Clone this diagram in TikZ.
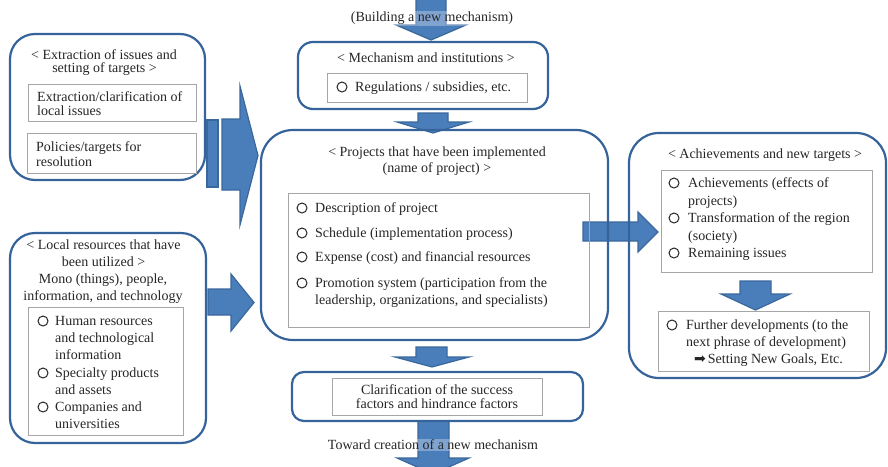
\documentclass[tikz,border=0pt]{standalone}
\usepackage{fontspec}
\setmainfont{Liberation Serif}
\newfontfamily\symf{DejaVu Sans}
\definecolor{arrfill}{HTML}{4A7EBB}
\definecolor{arrdraw}{HTML}{3A679C}
\definecolor{boxblue}{HTML}{35639A}
\definecolor{boxgray}{HTML}{A6A6A6}
\definecolor{txtc}{HTML}{262626}
\tikzset{
 rbox/.style={draw=boxblue, line width=2.2pt, rectangle, inner sep=0pt},
 ibox/.style={draw=boxgray, line width=1pt, rectangle, inner sep=0pt},
 txt/.style={inner sep=0pt, text=txtc, font=\fontsize{14}{14}\selectfont},
 bul/.style={draw=txtc, line width=1pt},
 blk/.style={fill=arrfill, draw=arrdraw, line width=1.2pt, line join=miter},
 lbl/.style={txt, fill=white, fill opacity=0.3, text opacity=1, inner sep=1pt},
}
\newcommand\RBox[6]{\node[rbox, rounded corners=#6pt, minimum width={#4-#2}, minimum height={#5-#3}] (#1) at ({(#2+#4)/2},{(#3+#5)/2}) {};}
\newcommand\IBox[5]{\node[ibox, minimum width={#4-#2}, minimum height={#5-#3}] (#1) at ({(#2+#4)/2},{(#3+#5)/2}) {};}
\newcommand\TL[4]{\node[txt, anchor=base west] (#1) at (#2,{#3+4.5}) {#4};}
\newcommand\TC[4]{\node[txt, anchor=base] (#1) at (#2,{#3+4.5}) {#4};}
\newcommand\IT[5]{\draw[bul] (#2,#4) circle[radius=5pt]; \TL{#1}{#3}{#4}{#5}}
\newcommand\RA[7]{\draw[blk] (#1,#4) -- (#2,#4) -- (#2,#6) -- (#3,{(#6+#7)/2}) -- (#2,#7) -- (#2,#5) -- (#1,#5) -- cycle;}
\newcommand\DA[7]{\draw[blk] (#4,#1) -- (#4,#2) -- (#6,#2) -- ({(#6+#7)/2},#3) -- (#7,#2) -- (#5,#2) -- (#5,#1) -- cycle;}
\begin{document}
\begin{tikzpicture}[x=1pt,y=-1pt]
\useasboundingbox (0,0) rectangle (888,466);
\clip (0,0) rectangle (888,466);
\fill[white] (0,0) rectangle (888,466);
% block arrows
\DA{-2}{25}{40}{416}{446}{396}{466}
\DA{113}{122}{133}{418}{448}{397}{469}
\DA{347}{357}{367}{416}{447}{395}{469}
\DA{421}{458}{474}{418}{449}{397}{469}
\DA{281}{294}{310}{740}{771}{721}{790}
\draw[blk] (207,120) rectangle (218,187);
\RA{222}{240}{258}{119}{190}{86}{225}
\RA{208}{231}{254}{289}{315}{274}{331}
\RA{583}{638}{658}{222}{241}{212}{252}
% rounded boxes
\RBox{A}{10}{34}{205}{180}{25}
\RBox{B}{10}{233}{206}{443}{25}
\RBox{C}{298}{42}{548}{109}{15}
\RBox{D}{261}{130}{608}{340}{32}
\RBox{E}{629}{133}{886}{378}{30}
\RBox{F}{292}{372}{583}{421}{12}
% inner boxes
\IBox{A1}{28}{84}{196}{121}
\IBox{A2}{27}{133}{196}{173}
\IBox{B1}{28}{307}{183}{435}
\IBox{C1}{327}{73}{527}{102}
\IBox{D1}{288}{193}{589}{327}
\IBox{E1}{661}{170}{872}{272}
\IBox{E2}{658}{311}{869}{371}
\IBox{F1}{332}{378}{542}{415}
% top / bottom labels
\node[lbl, anchor=base] (ttop) at (432,21.5) {(Building a new mechanism)};
\node[lbl, anchor=base] (tbot) at (433,449.5) {Toward creation of a new mechanism};
% A
\TC{a1}{104}{55}{< Extraction of issues and}
\TC{a2}{104.5}{68}{setting of targets >}
\TL{a3}{37}{97}{Extraction/clarification of}
\TL{a4}{37}{111}{local issues}
\TL{a5}{36}{147}{Policies/targets for}
\TL{a6}{36}{162}{resolution}
% B
\TC{b1}{103.5}{245}{< Local resources that have}
\TC{b2}{103.5}{262}{been utilized >}
\TC{b3}{103}{279}{Mono (things), people,}
\TC{b4}{103}{296}{information, and technology}
\IT{b5}{43}{55}{321}{Human resources}
\TL{b6}{55}{338}{and technological}
\TL{b7}{55}{355}{information}
\IT{b8}{43}{55}{373}{Specialty products}
\TL{b9}{55}{390}{and assets}
\IT{b10}{43}{55}{407}{Companies and}
\TL{b11}{55}{424}{universities}
% C
\TC{c1}{426}{58}{< Mechanism and institutions >}
\IT{c2}{342}{355}{87}{Regulations / subsidies, etc.}
% D
\TC{d1}{437}{152}{< Projects that have been implemented}
\TC{d2}{437}{168}{(name of project) >}
\IT{d3}{302}{315}{208}{Description of project}
\IT{d4}{302}{315}{233}{Schedule (implementation process)}
\IT{d5}{302}{315}{257}{Expense (cost) and financial resources}
\IT{d6}{302}{315}{283}{Promotion system (participation from the}
\TL{d7}{315}{300}{leadership, organizations, and specialists)}
% E
\TC{e1}{765}{154}{< Achievements and new targets >}
\IT{e2}{674}{688}{183}{Achievements (effects of}
\TL{e3}{688}{201}{projects)}
\IT{e4}{674}{688}{218}{Transformation of the region}
\TL{e5}{688}{236}{(society)}
\IT{e6}{674}{688}{253}{Remaining issues}
\IT{e7}{672}{686}{325}{Further developments (to the}
\TL{e8}{686}{342}{next phrase of development)}
\node[txt, anchor=base west] (e9) at (694,363.5) {{\symf\fontsize{14}{14}\selectfont ➡}\hspace{2pt}Setting New Goals, Etc.};
% F
\TC{f1}{437}{390}{Clarification of the success}
\TC{f2}{437}{404}{factors and hindrance factors}
\end{tikzpicture}
\end{document}
